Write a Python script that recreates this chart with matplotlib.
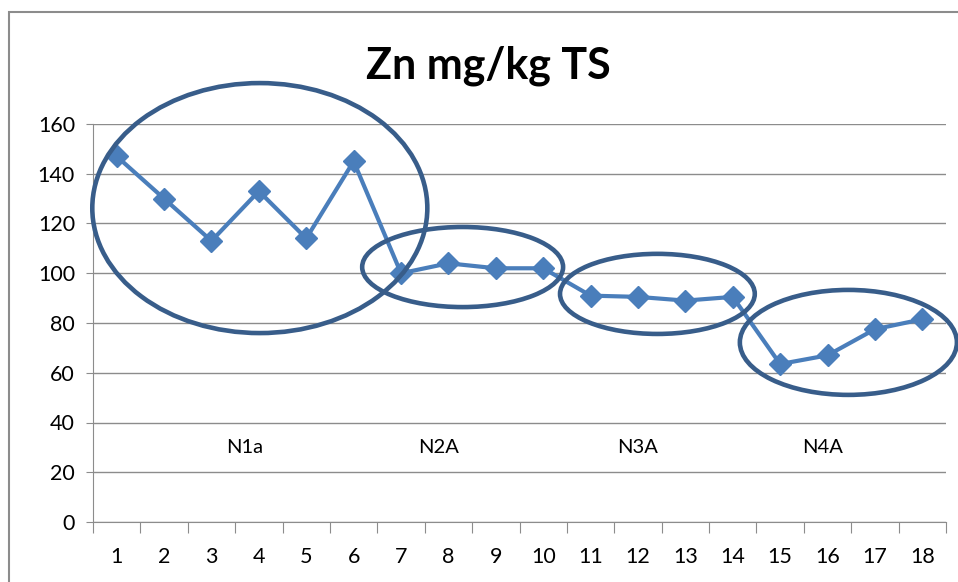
import numpy as np
from matplotlib import pyplot as plt
from matplotlib.patches import Ellipse, Rectangle

# sample number and Zn concentration (mg/kg TS)
samples = list(range(1, 19))
zn_values = [147, 130, 113, 133, 114, 145, 100, 104, 102, 102,
             91, 90.5, 89, 90.5, 63.5, 67, 77.5, 81.5]

# groups: label, label x, label y
group_names = ['N1a', 'N2A', 'N3A', 'N4A']
group_label_x = [3.7, 7.8, 12.0, 15.9]
group_label_y = [30, 30, 30, 30]

# ellipses around groups: centre x, centre y, width, height (data units)
ellipse_cx = [4.02, 8.30, 12.41, 16.44]
ellipse_cy = [126.2, 102.5, 91.7, 72.2]
ellipse_w = [7.07, 4.24, 4.11, 4.58]
ellipse_h = [100.5, 32.2, 32.2, 42.2]

yticks = list(range(0, 161, 20))

plt.rcParams['font.family'] = ['Lato', 'DejaVu Sans']

fig = plt.figure(figsize=(9.58, 5.82), dpi=100)
ax = fig.add_axes([93 / 958, 1 - 522 / 582, (946 - 93) / 958, (522 - 124) / 582])

# chart frame
fig.patches.append(Rectangle((9 / 958, -0.01), 1.0, 1 - 12 / 582 + 0.01,
                             transform=fig.transFigure, fill=False,
                             edgecolor='#8c8c8c', linewidth=1.5))

ax.plot(samples, zn_values, color='#4a7ebb', linewidth=3, marker='D',
        markersize=11, markerfacecolor='#4a7ebb', markeredgecolor='#4a7ebb',
        zorder=3)

for cx, cy, w, h in zip(ellipse_cx, ellipse_cy, ellipse_w, ellipse_h):
    ax.add_patch(Ellipse((cx, cy), w, h, fill=False, edgecolor='#385d8a',
                         linewidth=3.3, clip_on=False, zorder=4))

for name, gx, gy in zip(group_names, group_label_x, group_label_y):
    ax.text(gx, gy, name, ha='center', va='center', fontsize=14.5, color='black')

ax.set_xlim(0.5, 18.5)
ax.set_ylim(0, 160)
ax.set_yticks(yticks)
ax.set_yticklabels([str(v) for v in yticks], fontsize=15.5)

ax.set_xticks(np.arange(0.5, 19, 1))
ax.set_xticklabels([])
ax.set_xticks(samples, minor=True)
ax.set_xticklabels([str(s) for s in samples], minor=True, fontsize=15.5)
ax.tick_params(axis='x', which='major', length=8, color='#8c8c8c', direction='out')
ax.tick_params(axis='x', which='minor', length=0, pad=18)
ax.tick_params(axis='y', length=5, color='#8c8c8c', pad=8)

ax.grid(axis='y', color='#8c8c8c', linewidth=1)
ax.set_axisbelow(True)
for side in ['top', 'right']:
    ax.spines[side].set_visible(False)
ax.spines['left'].set_color('#8c8c8c')
ax.spines['bottom'].set_color('#8c8c8c')

fig.text(488 / 958, 1 - 66 / 582, 'Zn mg/kg TS', ha='center', va='center',
         fontsize=31, fontweight='bold')

fig.savefig('out.png', dpi=100)
